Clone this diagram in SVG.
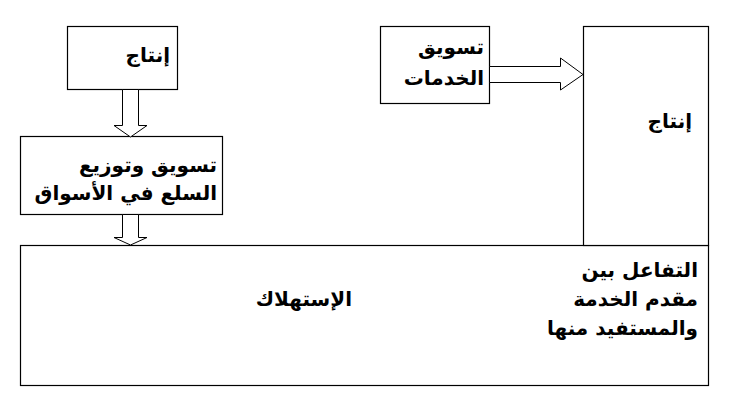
<svg xmlns="http://www.w3.org/2000/svg" width="735" height="413" viewBox="0 0 735 413">
<style>
.box{fill:#fff;stroke:#000;stroke-width:1.2}
.arr{fill:#fff;stroke:#000;stroke-width:1}
.t{font-family:"DejaVu Sans","Noto Sans",sans-serif;font-weight:bold;font-size:20px;fill:#000;text-anchor:end}
</style>
<rect width="735" height="413" fill="#fff"/>
<g id="consumption">
<rect class="box" x="20.5" y="245.5" width="688" height="140"/>
<text class="t" x="352" y="306">الإستهلاك</text>
<text class="t" x="698" y="277">التفاعل بين</text>
<text class="t" x="698" y="306">مقدم الخدمة</text>
<text class="t" x="698" y="335">والمستفيد منها</text>
</g>
<g id="production-left">
<rect class="box" x="67.5" y="26.5" width="110" height="63"/>
<text class="t" x="170" y="62">إنتاج</text>
</g>
<g id="goods-marketing">
<rect class="box" x="20.5" y="136.5" width="202" height="78"/>
<text class="t" x="217" y="172">تسويق وتوزيع</text>
<text class="t" x="217" y="200">السلع في الأسواق</text>
</g>
<g id="services-marketing">
<rect class="box" x="380.5" y="26.5" width="109" height="77"/>
<text class="t" x="484" y="54">تسويق</text>
<text class="t" x="484" y="85">الخدمات</text>
</g>
<g id="production-right">
<rect class="box" x="583.5" y="26.5" width="125" height="219"/>
<text class="t" x="692" y="128">إنتاج</text>
</g>
<g id="connectors">
<polygon class="arr" points="122.5,89.5 138.5,89.5 138.5,125.5 147,125.5 130.5,137 114,125.5 122.5,125.5"/>
<polygon class="arr" points="122.5,214.5 138.5,214.5 138.5,237.5 147,237.5 130.5,245 114,237.5 122.5,237.5"/>
<polygon class="arr" points="489.5,66.5 560.5,66.5 560.5,58 583,74.5 560.5,90 560.5,82.5 489.5,82.5"/>
</g>
</svg>
